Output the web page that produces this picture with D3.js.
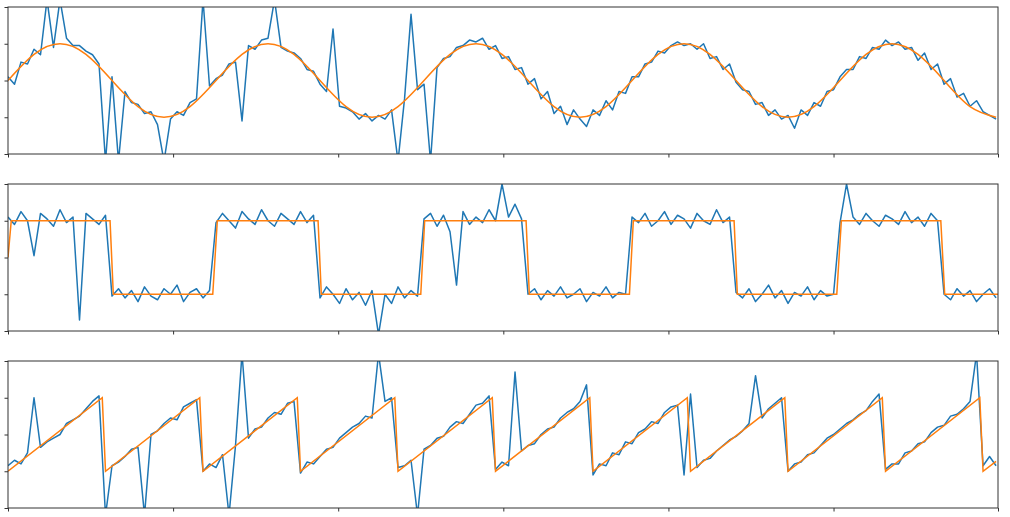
<!DOCTYPE html>
<html>
<head>
<meta charset="utf-8">
<script src="https://cdn.jsdelivr.net/npm/d3@7"></script>
<style>
  body { margin: 0; background: #fff; }
</style>
</head>
<body>
<svg id="chart" width="1010" height="517"></svg>
<script>
// sample index ticks (no labels shown)
const xTicks = [0, 25.4, 50.8, 76.2, 101.6, 127, 152.3];
const yTicks = [-2, -1, 0, 1, 2];

// panel 1: noisy sine + fit
const sineNoisy = [
  .1,-.1,.5,.45,.85,.7,2.2,.9,2.2,1.15,.95,.95,.8,.7,.45,-2.2,.1,-2.2,-.3,-.6,-.65,-.9,-.85,-1.2,-2.2,-1.05,-.85,-.95,-.6,-.5,2.2,-.15,
  .05,.15,.45,.5,-1.1,.95,.85,1.1,1.15,2.2,.9,.8,.75,.6,.3,.25,-.1,-.3,1.4,-.7,-.75,-.85,-1.05,-.9,-1.1,-.95,-1.05,-.8,-2.2,-.5,1.8,-.25,
  -.1,-2.2,.35,.6,.65,.9,.95,1.1,1.05,1.15,.85,.95,.6,.65,.3,.35,-.1,.05,-.5,-.3,-.9,-.7,-1.2,-.8,-1.05,-1.25,-.8,-.95,-.55,-.8,-.3,-.35,
  .1,.1,.45,.5,.8,.75,.95,1.05,.95,1.0,.85,1.0,.6,.65,.3,.45,-.05,-.25,-.3,-.65,-.6,-.95,-.8,-1.05,-.95,-1.3,-.8,-.95,-.6,-.7,-.3,-.25,
  .1,.3,.3,.65,.6,.9,.85,1.1,.95,1.05,.85,.9,.55,.75,.3,.45,-.1,.05,-.45,-.35,-.7,-.55,-.85,-.95,-1.05
];
const sineFitX = d3.range(0, 153, 4);
const sineFit = [
  0,.71,1,.71,0,-.71,-1,-.71, 0,.71,1,.71,0,-.71,-1,-.71,
  0,.71,1,.71,0,-.71,-1,-.71, 0,.71,1,.71,0,-.71,-1,-.71,
  0,.71,1,.71,0,-.71,-1
];

// panel 2: noisy square + fit
const squareNoisy = [
  1.1,.9,1.25,1.0,.05,1.2,1.05,.85,1.3,.95,1.1,-1.7,1.2,1.05,.9,1.15,
  -1.05,-.85,-1.1,-.9,-1.2,-.8,-1.05,-1.15,-.85,-1.0,-.75,-1.2,-.95,-.85,-1.1,-.9,
  .95,1.2,1.0,.8,1.25,1.05,.9,1.3,1.0,.85,1.2,1.05,.9,1.25,.95,1.15,
  -1.1,-.8,-1.0,-1.25,-.85,-1.15,-.95,-1.3,-.9,-2.1,-1.0,-1.25,-.8,-1.1,-.9,-1.05,
  1.05,1.2,.85,1.15,.7,-.75,1.25,.9,1.1,.95,1.3,1.0,2.0,1.1,1.45,1.05,
  -1.0,-.85,-1.15,-.9,-1.05,-.8,-1.1,-1.0,-.85,-1.2,-.95,-1.05,-.8,-1.1,-.95,-1.0,
  1.1,.95,1.2,.85,1.0,1.25,.9,1.15,1.05,.8,1.2,1.0,.9,1.3,.95,1.1,
  -.95,-1.1,-.85,-1.2,-1.0,-.75,-1.1,-.9,-1.25,-.95,-1.05,-.8,-1.15,-.9,-1.05,-1.0,
  .95,2.0,1.1,.9,1.2,1.0,.85,1.15,1.05,.9,1.25,.95,1.1,.85,1.2,1.0,
  -1.0,-1.15,-.85,-1.05,-.9,-1.2,-1.0,-.85,-1.1
];
const squareFitX = [0,0.5,15.7,16.2,31.5,32.2,47.7,48.2,63.5,64.1,79.7,80.2,95.6,96.2,111.7,112.2,127.5,128.2,143.5,144.1,152.3];
const squareFit  = [0,1,1,-1,-1,1,1,-1,-1,1,1,-1,-1,1,1,-1,-1,1,1,-1,-1];

// panel 3: noisy sawtooth + fit
const sawNoisy = [
  -.85,-.7,-.8,-.5,1.0,-.35,-.2,-.1,.0,.3,.4,.5,.7,.9,1.05,
  -2.2,-.85,-.75,-.6,-.4,-.35,-2.2,0.0,.1,.3,.45,.4,.75,.85,.95,
  -1.0,-.8,-.9,-.55,-2.2,-.3,2.2,-.1,.15,.2,.45,.6,.55,.85,.9,
  -1.05,-.75,-.8,-.6,-.4,-.35,-.1,.05,.2,.3,.5,.45,2.2,.9,1.0,
  -.9,-.85,-.7,-2.2,-.4,-.3,-.1,-.05,.2,.35,.3,.55,.8,.85,1.05,
  -.95,-.75,-.85,1.7,-.45,-.3,-.25,0.0,.15,.2,.45,.6,.7,.9,1.35,
  -1.1,-.8,-.85,-.5,-.55,-.2,-.25,.05,.15,.35,.3,.6,.75,.8,-1.1,
  1.1,-.9,-.7,-.65,-.45,-.3,-.15,-.05,.1,.3,1.6,.45,.7,.85,1.0,
  -1.0,-.8,-.75,-.55,-.5,-.3,-.1,.0,.15,.3,.4,.55,.65,.9,1.1,
  -.95,-.8,-.8,-.5,-.45,-.25,-.2,.05,.2,.25,.5,.55,.7,.9,2.2,
  -.85,-.6,-.85
];
const sawFitX = [0,14.5,15,29.5,30,44.5,45,59.5,60,74.5,75,89.5,90,104.5,105,119.5,120,134.5,135,149.5,150,152];
const sawFit  = [-1,1,-1,1,-1,1,-1,1,-1,1,-1,1,-1,1,-1,1,-1,1,-1,1,-1,-0.73];

const panels = [
  { top: 7,   noisy: sineNoisy,   fitX: sineFitX,   fit: sineFit,   curve: d3.curveNatural },
  { top: 184, noisy: squareNoisy, fitX: squareFitX, fit: squareFit, curve: d3.curveLinear },
  { top: 361, noisy: sawNoisy,    fitX: sawFitX,    fit: sawFit,    curve: d3.curveLinear }
];

const svg = d3.select("#chart");
const left = 8, right = 998, panelH = 147;
const x = d3.scaleLinear().domain([0, 152.3]).range([left, right]);

panels.forEach((p, idx) => {
  const y = d3.scaleLinear().domain([-2, 2]).range([p.top + panelH, p.top]);
  const g = svg.append("g");

  g.append("clipPath").attr("id", "clip" + idx)
    .append("rect")
    .attr("x", left).attr("y", p.top)
    .attr("width", right - left).attr("height", panelH);

  const plot = g.append("g").attr("clip-path", `url(#clip${idx})`);

  plot.append("path")
    .datum(p.noisy)
    .attr("fill", "none")
    .attr("stroke", "#1f77b4")
    .attr("stroke-width", 1.5)
    .attr("stroke-linejoin", "round")
    .attr("d", d3.line().x((d, i) => x(i)).y(d => y(d)));

  plot.append("path")
    .datum(p.fit)
    .attr("fill", "none")
    .attr("stroke", "#ff7f0e")
    .attr("stroke-width", 1.5)
    .attr("d", d3.line().curve(p.curve).x((d, i) => x(p.fitX[i])).y(d => y(d)));

  // frame
  g.append("rect")
    .attr("x", left).attr("y", p.top)
    .attr("width", right - left).attr("height", panelH)
    .attr("fill", "none").attr("stroke", "#333").attr("stroke-width", 1);

  const xAxis = g.append("g")
    .attr("transform", `translate(0,${p.top + panelH})`)
    .call(d3.axisBottom(x).tickValues(xTicks).tickSize(3.5).tickFormat(""));
  const yAxis = g.append("g")
    .attr("transform", `translate(${left},0)`)
    .call(d3.axisLeft(y).tickValues(yTicks).tickSize(3.5).tickFormat(""));
  [xAxis, yAxis].forEach(a => {
    a.select(".domain").remove();
    a.selectAll("line").attr("stroke", "#333");
  });
});
</script>
</body>
</html>
